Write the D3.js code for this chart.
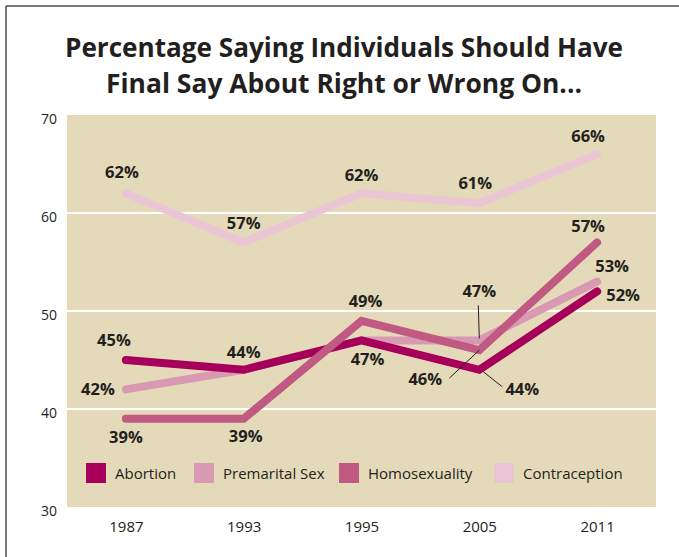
<!DOCTYPE html>
<html>
<head>
<meta charset="utf-8">
<script src="https://cdn.jsdelivr.net/npm/d3@7/dist/d3.min.js"></script>
<style>
  html, body { margin: 0; padding: 0; background: #fff; }
  svg { display: block; }
</style>
</head>
<body>
<svg id="chart" width="679" height="557"></svg>
<script>
// Survey years and the share (%) saying individuals should have final say
const years = ["1987", "1993", "1995", "2005", "2011"];
const abortion      = [45, 44, 47, 44, 52];
const premaritalSex = [42, 44, 47, 47, 53];
const homosexuality = [39, 39, 49, 46, 57];
const contraception = [62, 57, 62, 61, 66];
const yTicks = [30, 40, 50, 60, 70];

const seriesNames  = ["Abortion", "Premarital Sex", "Homosexuality", "Contraception"];
const seriesColors = ["#a6005a", "#d999b3", "#c05a82", "#eac6d5"];

const series = [
  { name: seriesNames[0], color: seriesColors[0], values: abortion },
  { name: seriesNames[1], color: seriesColors[1], values: premaritalSex },
  { name: seriesNames[2], color: seriesColors[2], values: homosexuality },
  { name: seriesNames[3], color: seriesColors[3], values: contraception }
];

const svg = d3.select("#chart");
const ink = "#231f20";

// frame lines along the top and left edges
svg.append("line").attr("x1", 6).attr("y1", 6).attr("x2", 679).attr("y2", 6)
  .attr("stroke", "#4d4d4d").attr("stroke-width", 1.5);
svg.append("line").attr("x1", 6).attr("y1", 6).attr("x2", 6).attr("y2", 557)
  .attr("stroke", "#4d4d4d").attr("stroke-width", 1.5);

// title
const titleLines = [
  { text: "Percentage Saying Individuals Should Have", y: 57, len: 558 },
  { text: "Final Say About Right or Wrong On...", y: 93, len: 476 }
];
svg.selectAll("text.title").data(titleLines).join("text")
  .attr("class", "title")
  .attr("x", 344).attr("y", d => d.y)
  .attr("text-anchor", "middle")
  .attr("font-family", "'Open Sans', sans-serif")
  .attr("font-weight", 700)
  .attr("font-size", 26)
  .attr("textLength", d => d.len)
  .attr("lengthAdjust", "spacingAndGlyphs")
  .attr("fill", ink)
  .text(d => d.text);

// plot area
const plot = { left: 67, right: 656, top: 115, bottom: 507 };

const x = d3.scalePoint().domain(years).range([plot.left, plot.right]).padding(0.5);
const y = d3.scaleLinear().domain([30, 70]).range([plot.bottom, plot.top]);

svg.append("rect")
  .attr("x", plot.left).attr("y", plot.top)
  .attr("width", plot.right - plot.left).attr("height", plot.bottom - plot.top)
  .attr("fill", "#e4dab9");

// white gridlines
svg.append("g")
  .selectAll("line").data(yTicks.filter(t => t > 30 && t < 70)).join("line")
  .attr("x1", plot.left).attr("x2", plot.right)
  .attr("y1", d => y(d)).attr("y2", d => y(d))
  .attr("stroke", "#fff").attr("stroke-width", 2);

// y axis labels
const yAxis = d3.axisLeft(y).tickValues(yTicks).tickSize(0).tickPadding(10);
const gy = svg.append("g").attr("transform", `translate(${plot.left},0)`).call(yAxis);
gy.select(".domain").remove();
gy.selectAll("text")
  .attr("font-family", "'Open Sans', sans-serif")
  .attr("font-size", 14)
  .attr("fill", ink)
  .attr("dy", "0.65em")
  .attr("y", -1);

// x axis labels
const xAxis = d3.axisBottom(x).tickSize(0).tickPadding(14);
const gx = svg.append("g").attr("transform", `translate(0,${plot.bottom})`).call(xAxis);
gx.select(".domain").remove();
gx.selectAll("text")
  .attr("font-family", "'Open Sans', sans-serif")
  .attr("font-size", 15)
  .attr("fill", ink);

// lines, drawn back to front
const line = d3.line().x((d, i) => x(years[i])).y(d => y(d));
const drawOrder = [3, 1, 0, 2];
svg.append("g")
  .selectAll("path").data(drawOrder.map(i => series[i])).join("path")
  .attr("d", d => line(d.values))
  .attr("fill", "none")
  .attr("stroke", d => d.color)
  .attr("stroke-width", 8)
  .attr("stroke-linecap", "round")
  .attr("stroke-linejoin", "miter");

// value labels: series index, year index, label offset from the point
const labels = [
  { s: 3, i: 0, dx: -4,  dy: -15 },
  { s: 3, i: 1, dx: 0,   dy: -13 },
  { s: 3, i: 2, dx: 0,   dy: -12 },
  { s: 3, i: 3, dx: -4,  dy: -14 },
  { s: 3, i: 4, dx: -9,  dy: -12 },
  { s: 0, i: 0, dx: -12, dy: -14 },
  { s: 0, i: 1, dx: 0,   dy: -12 },
  { s: 0, i: 2, dx: 6,   dy: 25 },
  { s: 0, i: 3, dx: 43,  dy: 25, lead: [[4, 2], [23, 17]] },
  { s: 0, i: 4, dx: 26,  dy: 10 },
  { s: 1, i: 0, dx: -28, dy: 6 },
  { s: 1, i: 3, dx: 0,   dy: -43, lead: [[-1, -35], [0, -2]] },
  { s: 1, i: 4, dx: 15,  dy: -10 },
  { s: 2, i: 0, dx: 0,   dy: 24 },
  { s: 2, i: 1, dx: 2,   dy: 23 },
  { s: 2, i: 2, dx: 4,   dy: -14 },
  { s: 2, i: 3, dx: -54, dy: 35, lead: [[-30, 28], [0, 0]] },
  { s: 2, i: 4, dx: -9,  dy: -10 }
];

const lg = svg.append("g");
labels.forEach(l => {
  const v = series[l.s].values[l.i];
  const px = x(years[l.i]), py = y(v);
  if (l.lead) {
    lg.append("line")
      .attr("x1", px + l.lead[0][0]).attr("y1", py + l.lead[0][1])
      .attr("x2", px + l.lead[1][0]).attr("y2", py + l.lead[1][1])
      .attr("stroke", ink).attr("stroke-width", 1);
  }
  lg.append("text")
    .attr("x", px + l.dx).attr("y", py + l.dy)
    .attr("text-anchor", "middle")
    .attr("font-family", "'Open Sans', sans-serif")
    .attr("font-weight", 700)
    .attr("font-size", 16.5)
    .attr("fill", ink)
    .text(v + "%");
});

// legend
const legendX = [86, 194, 339, 494];
const leg = svg.append("g").selectAll("g").data(series).join("g")
  .attr("transform", (d, i) => `translate(${legendX[i]},463)`);
leg.append("rect").attr("width", 20).attr("height", 20).attr("fill", d => d.color);
leg.append("text")
  .attr("x", 29).attr("y", 16)
  .attr("font-family", "'Open Sans', sans-serif")
  .attr("font-size", 15)
  .attr("fill", ink)
  .text(d => d.name);
</script>
</body>
</html>
